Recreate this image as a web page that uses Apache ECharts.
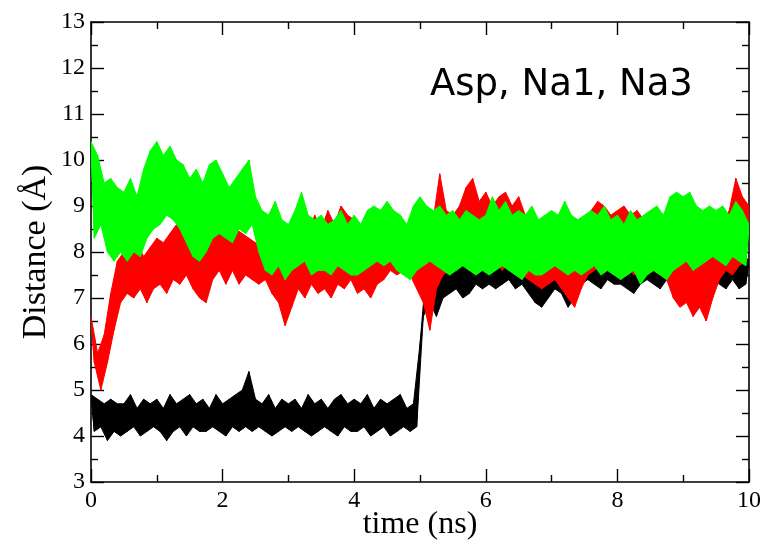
<!DOCTYPE html>
<html>
<head>
<meta charset="utf-8">
<script src="https://cdn.jsdelivr.net/npm/echarts@6/dist/echarts.min.js"></script>
<style>html,body{margin:0;padding:0;background:#fff}#c{width:766px;height:541px}</style>
</head>
<body>
<div id="c"></div>
<script>
// sampling step (ns) of the hand-read envelope values below:
// even entries = upper edge of the noisy trace, odd entries = lower edge
const timeStep = 0.05;
const xTicks = [0, 2, 4, 6, 8, 10];
const yTicks = [3, 4, 5, 6, 7, 8, 9, 10, 11, 12, 13];
const seriesNames = ['Asp-Na1', 'Asp-Na3', 'Na1-Na3'];
const seriesColors = ['#000000', '#ff0000', '#00ff00'];

const blackValues = [
  4.9,4.1, 4.8,4.2, 4.7,3.9, 4.8,4.1, 4.7,4.0,
  4.7,4.1, 4.9,4.2, 4.6,4.0, 4.8,4.1, 4.7,4.2,
  4.8,4.1, 4.6,3.9, 4.9,4.1, 4.7,4.2, 4.8,4.0,
  4.9,4.2, 4.7,4.1, 4.8,4.1, 4.6,4.2, 4.9,4.1,
  4.7,4.0, 4.8,4.2, 4.9,4.1, 5.0,4.2, 5.4,4.1,
  4.8,4.2, 4.7,4.1, 4.9,4.0, 4.6,4.1, 4.8,4.2,
  4.7,4.1, 4.8,4.2, 4.6,4.1, 4.9,4.0, 4.7,4.1,
  4.8,4.2, 4.6,4.1, 4.8,4.0, 4.9,4.2, 4.7,4.1,
  4.8,4.1, 4.7,4.2, 4.9,4.0, 4.6,4.1, 4.8,4.2,
  4.7,4.0, 4.8,4.1, 4.9,4.2, 4.6,4.1, 4.7,4.2,
  6.0,6.6, 7.7,6.9, 7.9,6.6, 7.8,7.0, 7.6,7.1,
  7.9,7.2, 8.0,7.0, 7.8,7.1, 8.1,7.3, 7.9,7.2,
  8.0,7.3, 7.9,7.2, 8.1,7.3, 8.0,7.4, 7.9,7.2,
  8.0,7.3, 7.9,7.1, 8.2,6.9, 7.8,6.8, 8.0,7.0,
  7.9,7.2, 8.1,7.1, 7.9,6.8, 8.0,7.0, 7.9,7.3,
  8.0,7.4, 7.9,7.3, 8.1,7.2, 8.0,7.4, 7.9,7.3,
  8.1,7.3, 7.9,7.2, 8.0,7.1, 8.1,7.3, 7.9,7.4,
  8.0,7.3, 7.9,7.2, 8.1,7.4, 8.0,7.3, 7.9,7.2,
  8.0,7.4, 8.1,7.3, 7.9,7.5, 8.0,7.3, 8.1,7.4,
  8.0,7.3, 8.1,7.2, 8.0,7.4, 8.2,7.2, 8.0,7.3,
  7.8
];
const redValues = [
  6.6,5.6, 5.8,5.0, 6.2,5.6, 7.1,6.3, 7.8,6.9,
  8.0,7.1, 7.9,7.0, 8.2,7.2, 7.9,6.9, 8.1,7.2,
  8.3,7.3, 8.2,7.1, 8.4,7.4, 8.6,7.3, 8.5,7.5,
  8.3,7.2, 8.4,7.0, 8.5,6.9, 8.3,7.4, 8.6,7.6,
  8.5,7.3, 8.4,7.6, 8.5,7.3, 8.4,7.5, 8.3,7.4,
  8.2,7.3, 8.1,7.4, 8.2,7.1, 8.0,6.9, 8.1,6.4,
  7.9,6.8, 8.3,7.2, 8.8,7.0, 8.4,7.3, 8.8,7.1,
  8.5,7.2, 8.9,7.0, 8.6,7.3, 9.0,7.2, 8.8,7.4,
  8.7,7.1, 8.5,7.2, 8.8,7.0, 8.6,7.3, 8.9,7.4,
  9.0,7.6, 8.7,7.5, 8.8,7.6, 8.5,7.5, 8.4,7.2,
  8.6,6.9, 8.3,6.3, 8.7,7.2, 9.7,7.5, 8.9,7.6,
  8.8,7.8, 9.0,7.9, 9.4,7.8, 9.6,7.9, 9.1,8.0,
  9.3,7.7, 9.0,7.8, 9.2,7.6, 9.3,7.8, 9.0,7.6,
  9.2,7.5, 8.8,7.4, 8.6,7.3, 8.4,7.2, 8.5,7.3,
  8.6,7.4, 8.4,7.2, 8.5,7.0, 8.3,6.8, 8.4,7.2,
  8.6,7.5, 8.9,7.6, 9.1,7.7, 9.0,7.6, 8.8,7.5,
  8.9,7.6, 9.0,7.7, 8.8,7.5, 8.9,7.6, 8.7,7.5,
  8.6,7.6, 8.5,7.5, 8.7,7.4, 8.4,7.0, 8.2,6.8,
  8.3,6.9, 8.1,6.6, 8.0,6.8, 8.2,6.5, 8.3,7.0,
  8.5,7.4, 8.6,7.6, 8.9,7.5, 9.6,7.7, 9.2,7.8,
  9.0
];
const greenValues = [
  10.4,8.3, 10.1,8.6, 9.5,8.0, 9.6,7.8, 9.4,8.0,
  9.3,7.8, 9.6,8.0, 9.2,7.9, 9.8,8.3, 10.2,8.5,
  10.4,8.6, 10.1,8.8, 10.3,8.7, 10.0,8.5, 9.9,8.2,
  9.6,7.9, 9.8,7.8, 9.5,8.0, 9.9,8.3, 10.0,8.4,
  9.7,8.3, 9.4,8.2, 9.6,8.5, 9.8,8.4, 10.0,8.6,
  9.2,8.0, 8.9,7.6, 8.8,7.5, 9.1,7.7, 8.7,7.4,
  8.6,7.6, 8.9,7.7, 9.3,7.8, 8.8,7.5, 8.7,7.6,
  8.8,7.6, 8.6,7.5, 8.7,7.7, 8.9,7.6, 8.6,7.5,
  8.8,7.5, 8.6,7.6, 8.9,7.7, 9.0,7.8, 8.9,7.7,
  9.1,7.8, 8.9,7.6, 8.8,7.5, 8.6,7.4, 9.0,7.6,
  9.2,7.7, 9.0,7.8, 8.9,7.7, 9.0,7.6, 8.8,7.5,
  8.9,7.6, 8.7,7.7, 8.9,7.6, 8.8,7.5, 8.7,7.6,
  8.8,7.5, 9.2,7.6, 8.9,7.7, 9.1,7.6, 8.8,7.5,
  8.9,7.4, 8.8,7.6, 9.0,7.5, 8.7,7.5, 8.8,7.6,
  8.9,7.7, 8.8,7.6, 9.1,7.5, 8.8,7.6, 8.7,7.5,
  8.8,7.6, 8.9,7.7, 8.8,7.5, 9.0,7.6, 8.7,7.5,
  8.8,7.4, 8.6,7.5, 8.9,7.6, 8.7,7.3, 8.8,7.5,
  8.9,7.6, 9.0,7.5, 8.8,7.4, 9.2,7.6, 9.3,7.7,
  9.2,7.8, 9.3,7.6, 9.0,7.7, 8.9,7.8, 9.0,7.9,
  8.9,7.8, 9.0,7.7, 8.8,7.9, 9.1,7.8, 8.9,7.7,
  8.6
];

function pairs(vals) {
  return vals.map((v, i) => [+(i * timeStep).toFixed(2), v]);
}

// noisy trace drawn as a filled band: upper edge through even samples, lower edge back through odd samples,
// plus the zig-zag line through all samples for the jagged texture
function bandSeries(name, vals, color, z) {
  const data = pairs(vals);
  return {
    name: name, type: 'custom', coordinateSystem: 'cartesian2d', clip: true, z: z,
    data: data, encode: {x: 0, y: 1},
    renderItem: function (params, api) {
      if (params.dataIndex !== 0) return null;
      const pts = [];
      for (let i = 0; i < data.length; i += 2) pts.push(api.coord(data[i]));
      for (let i = (data.length % 2 === 0 ? data.length - 1 : data.length - 2); i >= 1; i -= 2) pts.push(api.coord(data[i]));
      const zig = data.map(d => api.coord(d));
      return {
        type: 'group',
        children: [
          {type: 'polygon', shape: {points: pts}, style: {fill: color, stroke: color, lineWidth: 1}},
          {type: 'polyline', shape: {points: zig}, style: {fill: null, stroke: color, lineWidth: 1}}
        ]
      };
    }
  };
}

const serif = 'Liberation Serif, Times New Roman, serif';
const chart = echarts.init(document.getElementById('c'), null, {renderer: 'canvas'});

function axisCommon(showLabel) {
  return {
    nameMoveOverlap: false,
    axisLine: {show: true, onZero: false, lineStyle: {color: '#000', width: 1.6}},
    axisTick: {show: true, inside: true, length: 13, lineStyle: {color: '#000', width: 1.4}},
    minorTick: {show: true, splitNumber: 2, length: 7, lineStyle: {color: '#000', width: 1.4}},
    splitLine: {show: false},
    axisLabel: {show: showLabel, color: '#000', fontFamily: serif, fontSize: 24}
  };
}

chart.setOption({
  animation: false,
  backgroundColor: '#fff',
  title: {
    text: 'Asp, Na1, Na3',
    left: 425, top: 62,
    textStyle: {fontFamily: 'DejaVu Sans', fontWeight: 'normal', fontSize: 37, color: '#000'}
  },
  grid: {left: 91, right: 17, top: 22, bottom: 59, containLabel: false, outerBoundsMode: 'none'},
  xAxis: [
    Object.assign(axisCommon(true), {
      type: 'value', min: xTicks[0], max: xTicks[xTicks.length - 1], interval: 2,
      position: 'bottom',
      name: 'time (ns)', nameLocation: 'middle', nameGap: 27,
      nameTextStyle: {fontFamily: serif, fontSize: 32, color: '#000'},
      axisLabel: {show: true, color: '#000', fontFamily: serif, fontSize: 24, margin: 7}
    }),
    Object.assign(axisCommon(false), {
      type: 'value', min: xTicks[0], max: xTicks[xTicks.length - 1], interval: 2, position: 'top'
    })
  ],
  yAxis: [
    Object.assign(axisCommon(true), {
      type: 'value', min: yTicks[0], max: yTicks[yTicks.length - 1], interval: 1,
      position: 'left',
      name: 'Distance (Å)', nameLocation: 'middle', nameGap: 38,
      nameTextStyle: {fontFamily: serif, fontSize: 34, color: '#000'},
      axisLabel: {show: true, color: '#000', fontFamily: serif, fontSize: 24, margin: 6}
    }),
    Object.assign(axisCommon(false), {
      type: 'value', min: yTicks[0], max: yTicks[yTicks.length - 1], interval: 1, position: 'right'
    })
  ],
  series: [
    bandSeries(seriesNames[0], blackValues, seriesColors[0], 2),
    bandSeries(seriesNames[1], redValues, seriesColors[1], 3),
    bandSeries(seriesNames[2], greenValues, seriesColors[2], 4)
  ]
});
</script>
</body>
</html>
